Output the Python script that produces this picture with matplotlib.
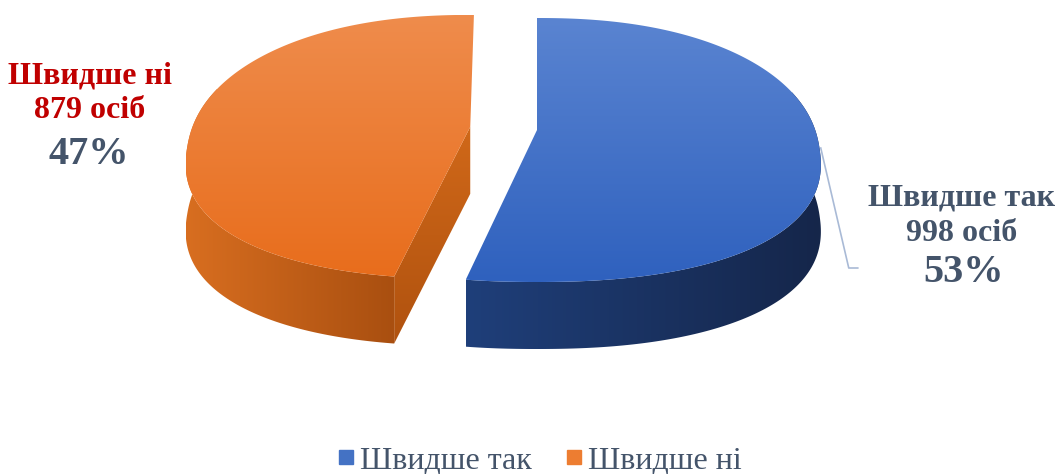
import numpy as np
import matplotlib.pyplot as plt
from matplotlib.patches import Polygon
from matplotlib.lines import Line2D
from matplotlib.colors import LinearSegmentedColormap

# data
categories = ["Швидше так", "Швидше ні"]
counts = [998, 879]
explode = [0.0, 0.24]

# styles
top_colors = [("#5A84D1", "#2F61BE"), ("#EF8C4C", "#E86D1C")]
side_colors = [("#1F3F7A", "#15264A"), ("#D86E20", "#A94F10")]
cut_colors = [("#1F3F7A", "#172B52"), ("#D06819", "#B0520F")]
legend_colors = ["#4472C4", "#ED7D31"]
text_grey = "#44546A"
text_red = "#C00000"
FONT = "Liberation Serif"

# pie geometry (pixels)
CX, CY = 537, 150
RX, RY = 280, 132
VOFF = -20
DEPTH = 67
PERSP = 0.065
NEXP = 2.25   # a bit fuller than an ellipse, like the 3D render

plt.rcParams["font.family"] = [FONT, "DejaVu Serif"]

fig = plt.figure(figsize=(10.6, 4.74), dpi=100)
ax = fig.add_axes([0, 0, 1, 1])
ax.set_xlim(0, 1060)
ax.set_ylim(474, 0)
ax.axis("off")

YV = CY + VOFF


def persp(p):
    # front of the pie a little wider than the back
    x, y = p
    return np.array([CX + (x - CX) * (1 + PERSP * (y - YV) / RY), y])


def ept(t, off):
    c, s = np.cos(np.radians(t)), np.sin(np.radians(t))
    ex = np.sign(c) * abs(c) ** (2 / NEXP)
    ey = np.sign(s) * abs(s) ** (2 / NEXP)
    return persp((CX + off[0] + RX * ex, CY + off[1] - RY * ey))


def grad_fill(poly, c1, c2, vertical=True, z=1):
    poly = np.asarray(poly)
    patch = Polygon(poly, closed=True, facecolor="none", edgecolor="none", zorder=z)
    ax.add_patch(patch)
    cmap = LinearSegmentedColormap.from_list("g", [c1, c2])
    if vertical:
        arr = np.linspace(0, 1, 256).reshape(-1, 1)
    else:
        arr = np.linspace(0, 1, 256).reshape(1, -1)
    im = ax.imshow(arr, cmap=cmap, aspect="auto", zorder=z, interpolation="bilinear",
                   extent=(poly[:, 0].min(), poly[:, 0].max(), poly[:, 1].max(), poly[:, 1].min()))
    im.set_clip_path(patch)


total = sum(counts)
shares = [c / total for c in counts]

# slices go clockwise from 12 o'clock
start = 90.0
slices = []
for i, s in enumerate(shares):
    a1 = start
    a2 = start - s * 360
    mid = (a1 + a2) / 2
    off = (explode[i] * RX * np.cos(np.radians(mid)), -explode[i] * RY * np.sin(np.radians(mid)))
    slices.append((a1, a2, off))
    start = a2

# side faces first
for i, (a1, a2, off) in enumerate(slices):
    lo, hi = min(a1, a2), max(a1, a2)
    vtx = persp((CX + off[0], YV + off[1]))
    # cut faces that face the viewer
    for ang, sgn in ((a1, 1), (a2, -1)):
        normal = ang + 90 * sgn
        if np.sin(np.radians(normal)) < -0.05:
            p = ept(ang, off)
            quad = [vtx, p, p + [0, DEPTH], vtx + [0, DEPTH]]
            grad_fill(quad, cut_colors[i][0], cut_colors[i][1], vertical=True, z=1)
    # outer side: front half (plus a margin hidden under the top face)
    ts = np.linspace(lo, hi, 400)
    ts = ts[np.sin(np.radians(ts)) <= 0.4]
    if len(ts) > 1:
        topedge = np.array([ept(t, off) for t in ts])
        bot = topedge[::-1] + [0, DEPTH]
        grad_fill(np.vstack([topedge, bot]), side_colors[i][0], side_colors[i][1],
                  vertical=False, z=2)

# top faces
for i, (a1, a2, off) in enumerate(slices):
    vtx = persp((CX + off[0], YV + off[1]))
    ts = np.linspace(a1, a2, 400)
    arc = np.array([ept(t, off) for t in ts])
    grad_fill(np.vstack([vtx, arc]), top_colors[i][0], top_colors[i][1], vertical=True, z=3)

# data labels
pct = [round(s * 100) for s in shares]
p0 = ept(0, slices[0][2])
ax.plot([p0[0] + 1, p0[0] + 29, p0[0] + 38], [p0[1] - 2, p0[1] + 118, p0[1] + 118],
        color="#A9BAD6", lw=1.2, zorder=4)

ax.text(962, 216, f"{categories[0]}\n{counts[0]} осіб", ha="center", va="center",
        fontsize=23, fontweight="bold", color=text_grey, linespacing=1.3)
ax.text(964, 272, f"{pct[0]}%", ha="center", va="center",
        fontsize=29, fontweight="bold", color=text_grey)

ax.text(90, 93, f"{categories[1]}\n{counts[1]} осіб", ha="center", va="center",
        fontsize=23, fontweight="bold", color=text_red, linespacing=1.25)
ax.text(89, 154, f"{pct[1]}%", ha="center", va="center",
        fontsize=29, fontweight="bold", color=text_grey)

handles = [Line2D([], [], marker="s", linestyle="none", markersize=9.5,
                  markerfacecolor=c, markeredgecolor=c) for c in legend_colors]
leg = fig.legend(handles, categories, loc="lower center", bbox_to_anchor=(0.507, -0.064),
                 ncol=2, frameon=False, fontsize=23, handletextpad=0.05,
                 columnspacing=0.9, handlelength=0.8)
for t in leg.get_texts():
    t.set_color(text_grey)

fig.savefig("out.png", dpi=100)
